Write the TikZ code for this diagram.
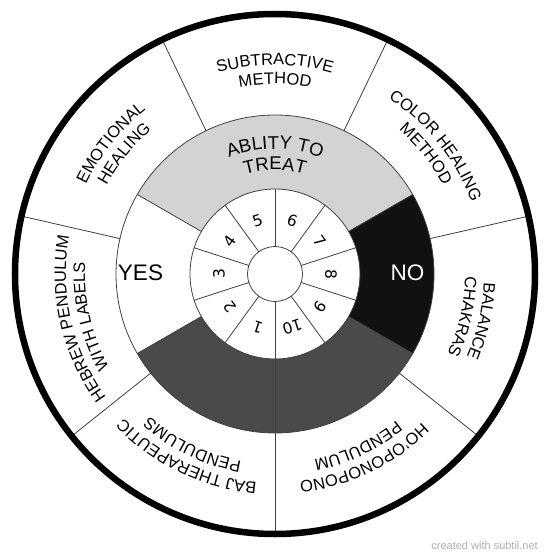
\documentclass[tikz,border=0pt]{standalone}
\usepackage{fontspec}
\setmainfont{Liberation Sans}
\newfontfamily\digitfont{DejaVu Sans}
\usetikzlibrary{decorations.text}
\definecolor{ringgray}{HTML}{D3D3D3}
\definecolor{darkseg}{HTML}{4A4A4A}
\definecolor{noseg}{HTML}{111111}
\definecolor{divline}{HTML}{404040}
\definecolor{wmark}{HTML}{B0B0B0}
\newcommand{\wheelsector}[5]{\fill[#5] (#1:#3) arc[start angle=#1, end angle=#2, radius=#3] -- (#2:#4) arc[start angle=#2, end angle=#1, radius=#4] -- cycle;}
\newcommand{\arclabel}[4]{\path[decorate, decoration={text along path, text align=center, text={|\fontsize{#3}{#3}\selectfont|#4}}] ({#1+45}:#2) arc[start angle={#1+45}, end angle={#1-45}, radius=#2];}
\begin{document}
\begin{tikzpicture}[x=1pt,y=1pt,
  divider/.style={draw=divline, line width=0.8pt},
  ringline/.style={draw=divline, line width=0.8pt},
  num/.style={font=\digitfont\fontsize{15.5}{16}\selectfont, inner sep=0pt},
  bigword/.style={font=\fontsize{22.5}{23}\selectfont, inner sep=0pt},
  rim/.style={draw=black, line width=6.5pt}]
\useasboundingbox (-275,-283) rectangle (275,274);
\fill[white] (-275,-283) rectangle (275,274);
\def\rC{27.5}\def\rN{85}\def\rM{159}\def\rO{260}
% middle ring sectors
\wheelsector{30}{150}{\rN}{\rM}{ringgray}
\wheelsector{-30}{30}{\rN}{\rM}{noseg}
\wheelsector{-90}{-30}{\rN}{\rM}{darkseg}
\wheelsector{-150}{-90}{\rN}{\rM}{darkseg}
% circles
\draw[ringline] (0,0) circle[radius=\rC];
\draw[ringline] (0,0) circle[radius=\rN];
\draw[ringline] (0,0) circle[radius=\rM];
% number ring dividers
\foreach \a in {90,54,18,-18,-54,-90,-126,-162,162,126}
  \draw[divider] (\a:\rC) -- (\a:\rN);
% middle ring dividers
\foreach \a in {150,30,-30,-90,-150}
  \draw[divider] (\a:\rN) -- (\a:\rM);
% outer ring dividers
\foreach \a in {64.29,12.86,-38.57,-90,-141.43,167.14,115.71}
  \draw[divider] (\a:\rM) -- (\a:\rO);
% numbers
\foreach \n in {1,...,10}
  \node[num, rotate={198-36*\n}] (d\n) at ({288-36*\n}:56) {\n};
% middle labels
\node[bigword] (yes) at (-134.5,1) {YES};
\node[bigword, text=white] (no) at (132.5,1) {NO};
\arclabel{90}{125}{18.5}{ABLITY TO}
\arclabel{90}{104}{18.5}{TREAT}
% outer labels
\arclabel{90}{209}{16.5}{SUBTRACTIVE}
\arclabel{90}{190}{16.5}{METHOD}
\arclabel{38.57}{209}{16.5}{COLOR HEALING}
\arclabel{38.57}{190}{16.5}{METHOD}
\arclabel{-12.86}{209}{16.5}{BALANCE}
\arclabel{-12.86}{190}{16.5}{CHAKRAS}
\arclabel{-64.29}{209}{16.5}{HO'OPONOPONO}
\arclabel{-64.29}{190}{16.5}{PENDULUM}
\arclabel{-115.71}{209}{16.5}{BAJ THERAPEUTIC}
\arclabel{-115.71}{190}{16.5}{PENDULUMS}
\arclabel{-167.14}{209}{16.5}{HEBREW PENDULUM}
\arclabel{-167.14}{190}{16.5}{WITH LABELS}
\arclabel{141.43}{209}{16.5}{EMOTIONAL}
\arclabel{141.43}{190}{16.5}{HEALING}
% rim
\draw[rim] (0,0) circle[radius=\rO];
% watermark
\node[anchor=base east, text=wmark, font=\fontsize{11}{11}\selectfont, inner sep=0pt] (wm) at (263,-275.3) {created with subtil.net};
\end{tikzpicture}
\end{document}
